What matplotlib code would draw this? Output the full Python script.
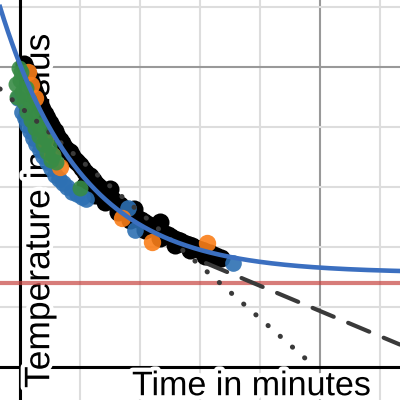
import numpy as np
import matplotlib
matplotlib.use("Agg")
import matplotlib.pyplot as plt
import matplotlib.patheffects as pe
from matplotlib.ticker import MultipleLocator

plt.rcParams['font.family'] = ['Liberation Sans', 'DejaVu Sans']

# --- measured cooling data (time in minutes, temperature in celsius) ---
black_t = [0.33, 0.5, 0.67, 0.83, 1.0, 1.17, 1.33, 1.5, 1.67, 1.83, 2.08, 2.25,
           2.5, 2.67, 2.92, 3.08, 3.33, 3.5, 3.67, 3.92, 4.17, 4.33, 4.58, 4.75,
           5.0, 5.17, 5.42, 5.42, 5.67, 5.83, 6.08, 6.25, 6.25, 6.5, 6.67, 6.92,
           7.08, 7.08, 7.33, 7.5, 7.75, 7.92, 8.17, 8.17, 8.33, 8.58, 8.83, 9.08,
           9.17, 9.33, 9.5, 9.58, 9.83, 10.08, 10.33, 10.42, 10.58, 10.83, 11.08,
           11.33, 11.58, 11.67, 11.67, 11.83, 12.08, 12.33, 12.58, 12.83, 12.92,
           13.08, 13.33, 13.58, 13.83, 14.08, 14.17, 14.33, 14.58, 14.83, 15.08,
           15.33, 15.42, 15.58, 15.83, 16.08, 16.33, 16.58, 16.75]
black_T = [75.75, 74.5, 73.25, 72.0, 70.75, 69.25, 68.0, 66.75, 65.75, 64.5, 63.25, 62.25,
           61.0, 60.0, 59.0, 57.75, 56.75, 56.0, 55.0, 54.25, 53.75, 52.75, 51.75, 51.25,
           50.5, 49.75, 48.75, 45.5, 48.0, 47.75, 46.75, 46.0, 43.0, 45.25, 44.75, 44.0,
           43.25, 41.25, 43.0, 44.5, 41.75, 41.0, 38.75, 40.75, 40.5, 39.75, 39.0, 38.75,
           36.75, 38.25, 39.5, 37.75, 37.0, 36.75, 36.25, 34.25, 35.75, 35.25, 34.75,
           34.5, 34.0, 32.25, 36.25, 33.5, 33.25, 33.0, 32.5, 32.0, 30.5,
           31.75, 31.5, 31.0, 30.75, 30.5, 29.25, 30.25, 29.75, 29.5, 29.25,
           29.0, 27.75, 28.5, 28.5, 28.0, 27.75, 27.25, 27.25]

blue_t = [-0.17, 0.17, 0.42, 0.58, 0.83, 1.08, 1.33, 1.67, 1.92, 2.25, 2.58, 2.92,
          3.25, 3.58, 3.92, 4.33, 4.75, 5.17, 5.5, 9.0, 9.58, 17.75]
blue_T = [67.25, 63.75, 62.25, 60.5, 59.0, 57.25, 55.75, 54.25, 52.75, 51.25, 49.75, 48.0,
          47.0, 46.0, 45.0, 43.75, 43.25, 42.5, 42.0, 39.75, 34.25, 26.0]

orange_t = [0.67, 0.92, 1.25, 2.08, 2.67, 3.33, 8.5, 11.0, 15.58]
orange_T = [73.75, 70.5, 67.25, 56.75, 53.0, 50.0, 37.25, 31.25, 31.0]

green_t = [-0.33, -0.25, -0.08, 0.0, 0.08, 0.17, 0.33, 0.5, 0.58, 0.75, 0.83, 0.92,
           1.08, 1.25, 1.42, 1.5, 1.58, 1.75, 1.92, 2.08, 2.25, 2.42, 2.58, 2.75,
           3.0, 5.0]
green_T = [70.75, 67.5, 74.75, 71.75, 73.75, 68.75, 66.25, 69.75, 63.75, 66.75, 64.75, 61.75,
           64.25, 59.75, 62.25, 60.5, 57.75, 59.25, 55.75, 57.25, 53.75, 55.25, 51.75, 53.0,
           51.25, 44.75]

# --- model lines ---
room_temp = 21.0
fit_Tinf, fit_A, fit_k = 23.5, 52.1, 0.1464      # T = Tinf + A*exp(-k t)
tangent_T0, tangent_slope = 65.1, -2.648          # dotted line
late_T0, late_slope, late_start = 45.5, -1.26, 15.5   # dashed line

XLIM = (-1.667, 31.667)
YLIM = (-8.25, 91.75)

fig = plt.figure(figsize=(4, 4), dpi=100)
ax = fig.add_axes([0, 0, 1, 1])
ax.set_xlim(*XLIM)
ax.set_ylim(*YLIM)
for s in ax.spines.values():
    s.set_visible(False)

# desmos style grid
ax.xaxis.set_major_locator(MultipleLocator(25))
ax.xaxis.set_minor_locator(MultipleLocator(5))
ax.yaxis.set_major_locator(MultipleLocator(75))
ax.yaxis.set_minor_locator(MultipleLocator(15))
ax.tick_params(which='both', length=0, labelbottom=False, labelleft=False)
ax.grid(which='minor', color='#dddddd', lw=1.5, zorder=0)
ax.grid(which='major', color='#999999', lw=1.5, zorder=0.5)
ax.set_axisbelow(True)
ax.axhline(0, color='black', lw=2.2, zorder=1)
ax.axvline(0, color='black', lw=2.2, zorder=1)

halo = [pe.withStroke(linewidth=6, foreground='white')]
ax.text(0.33, 0.012, 'Time in minutes', transform=ax.transAxes, fontsize=24.5,
        ha='left', va='baseline', path_effects=halo, zorder=2)
ax.text(0.058, 0.03, 'Temperature in celsius', transform=ax.transAxes, fontsize=25.5,
        rotation=90, ha='left', va='bottom', path_effects=halo, zorder=2)

# room temperature
ax.axhline(room_temp, color='#c74440', alpha=0.7, lw=3, zorder=3)

# scatter data
ax.plot(black_t, black_T, 'o', color='black', ms=13, mew=0, zorder=4)
ax.plot(blue_t, blue_T, 'o', color='#2d70b3', ms=12, mew=0, alpha=0.9, zorder=5)
ax.plot(orange_t, orange_T, 'o', color='#fa7e19', ms=12.5, mew=0, alpha=0.9, zorder=6)
ax.plot(green_t, green_T, 'o', color='#388c46', ms=11.5, mew=0, alpha=0.9, zorder=7)

# dotted and dashed straight lines
t_dot = np.array([XLIM[0], -tangent_T0 / tangent_slope])
ax.plot(t_dot, tangent_T0 + tangent_slope * t_dot, color='#3a3a3a', lw=3.6,
        dashes=(0.05, 3.2), dash_capstyle='round', zorder=8)
t_dash = np.array([late_start, XLIM[1]])
ax.plot(t_dash, late_T0 + late_slope * t_dash, color='#3a3a3a', lw=3,
        dashes=(5.5, 3.75), dash_capstyle='round', zorder=8)

# exponential fit
t_fit = np.linspace(XLIM[0], XLIM[1], 300)
ax.plot(t_fit, fit_Tinf + fit_A * np.exp(-fit_k * t_fit), color='#3b6fc0', lw=3.3,
        zorder=9)

fig.savefig('out.png', dpi=100)
